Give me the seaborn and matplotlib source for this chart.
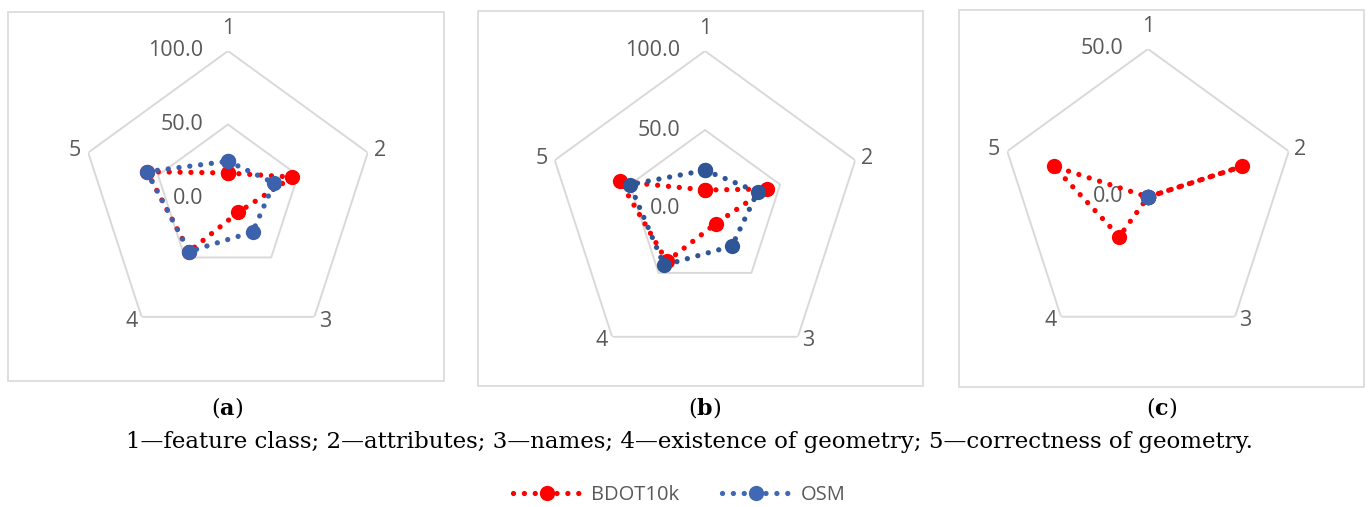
import numpy as np
import pandas as pd
import matplotlib
matplotlib.use("Agg")
import matplotlib.pyplot as plt
from matplotlib.patches import Rectangle
from matplotlib.lines import Line2D
import seaborn as sns

# ---------------- data ----------------
axes_labels = ["1", "2", "3", "4", "5"]
panel_names = ["a", "b", "c"]
series_names = ["BDOT10k", "OSM"]

bdot_a = [17.0, 46.0, 12.0, 45.0, 58.0]
osm_a = [25.0, 33.0, 28.5, 45.0, 58.0]

bdot_b = [12.0, 41.0, 11.5, 41.0, 56.5]
osm_b = [24.5, 35.0, 29.0, 44.0, 50.0]

bdot_c = [0.0, 33.5, 0.0, 16.5, 33.5]
osm_c = [0.0, 0.0, 0.0, 0.0, 0.0]

ring_values_ab = [0.0, 50.0, 100.0]
ring_values_c = [0.0, 50.0]
ring_labels_ab = ["0.0", "50.0", "100.0"]
ring_labels_c = ["0.0", "50.0"]

caption = ("1\u2014feature class; 2\u2014attributes; 3\u2014names; "
           "4\u2014existence of geometry; 5\u2014correctness of geometry.")

# ---------------- style ----------------
sns.set_theme(style="white")
plt.rcParams["font.family"] = ["Open Sans", "DejaVu Sans"]
plt.rcParams["mathtext.fontset"] = "custom"
plt.rcParams["mathtext.rm"] = "DejaVu Serif"
plt.rcParams["mathtext.bf"] = "DejaVu Serif:bold"

RED = "#ff0000"
BLUE = "#3c61ad"
BLUE_B = "#2e5596"
GRID = "#d9d9d9"
TXT = "#595959"
LW = 3.8
DOTS = (0, (0.01, 2.05))
MS = 11

W, H = 1370, 507
fig = plt.figure(figsize=(W / 100, H / 100), dpi=100)

def fx(px):
    return px / W

def fy(py):
    return 1 - py / H

# outer frames (pixel boxes)
frames = [(8, 12, 444, 381), (478, 11, 923, 386), (959, 10, 1364, 387)]
for (x0, y0, x1, y1) in frames:
    fig.add_artist(Rectangle((fx(x0), fy(y1)), fx(x1 - x0), (y1 - y0) / H,
                             transform=fig.transFigure, fill=False,
                             ec=GRID, lw=1.2))

# polar axes: centre (px), radius (px)
geo = [(228, 198, 147), (705, 209, 158), (1148, 197, 148)]
panels = [
    (bdot_a, osm_a, ring_values_ab, ring_labels_ab, BLUE),
    (bdot_b, osm_b, ring_values_ab, ring_labels_ab, BLUE_B),
    (bdot_c, osm_c, ring_values_c, ring_labels_c, BLUE),
]

theta = np.linspace(0, 2 * np.pi, len(axes_labels), endpoint=False)
theta_closed = np.append(theta, theta[0] + 2 * np.pi)

lab_off = [(0, 16.5), (8.5, 1.5), (7.5, -3), (-7.5, -3), (-9.5, 1.5)]

for (cx, cy, R), (bd, osm, rings, rlabels, bcol) in zip(geo, panels):
    ax = fig.add_axes([fx(cx - R), fy(cy + R), 2 * R / W, 2 * R / H],
                      projection="polar")
    ax.set_theta_zero_location("N")
    ax.set_theta_direction(-1)
    rmax = rings[-1]
    ax.set_ylim(0, rmax)
    ax.grid(False)
    ax.spines["polar"].set_visible(False)
    ax.set_xticks([])
    ax.set_yticks([])
    ax.patch.set_alpha(0)

    # pentagon gridlines
    for rv in rings:
        if rv > 0:
            ax.plot(theta_closed, [rv] * len(theta_closed), color=GRID,
                    lw=1.4, zorder=1)
    # ring value labels
    for rv, rl in zip(rings, rlabels):
        ax.annotate(rl, xy=(0, rv), xytext=(-18, 0), textcoords="offset points",
                    ha="right", va="center", fontsize=15.5, color=TXT, zorder=2)
    # axis labels
    for t, lab, off in zip(theta, axes_labels, lab_off):
        ax.annotate(lab, xy=(t, rmax), xytext=off, textcoords="offset points",
                    ha="center", va="center", fontsize=15.5, color=TXT)

    # series
    for vals, col, name in [(bd, RED, series_names[0]), (osm, bcol, series_names[1])]:
        df = pd.DataFrame({"theta": theta_closed, "r": list(vals) + [vals[0]]})
        sns.lineplot(data=df, x="theta", y="r", ax=ax, sort=False,
                     estimator=None, color=col, marker="o", markersize=MS,
                     markeredgewidth=0, zorder=3, legend=False)
        line = ax.lines[-1]
        line.set_linewidth(LW)
        line.set_linestyle(DOTS)
        line.set_dash_capstyle("round")
        line.set_markersize(MS)
        line.set_markeredgewidth(0)
    ax.set_xlabel("")
    ax.set_ylabel("")
    ax.set_ylim(0, rmax)

# panel captions
for p, xpos in zip(panel_names, [227, 705, 1162]):
    fig.text(fx(xpos), fy(408), "($\\mathbf{" + p + "}$)", ha="center",
             va="center", fontsize=16, family="DejaVu Serif", color="black")

fig.text(fx((122 + 1257) / 2), fy(442), caption, ha="center", va="center",
         fontsize=16.5, family="DejaVu Serif", color="black")

# legend
handles = [Line2D([], [], color=RED, lw=LW, linestyle=DOTS, dash_capstyle="round",
                  marker="o", markersize=MS, markeredgewidth=0),
           Line2D([], [], color="#4068b4", lw=LW, linestyle=DOTS, dash_capstyle="round",
                  marker="o", markersize=MS, markeredgewidth=0)]
leg = fig.legend(handles, series_names, loc="center", bbox_to_anchor=(fx(679), fy(495)),
                 ncol=2, frameon=False, fontsize=14.5, handlelength=3.4,
                 handletextpad=0.5, columnspacing=2.1, numpoints=1)
for t in leg.get_texts():
    t.set_color(TXT)

fig.savefig("out.png", dpi=100)
